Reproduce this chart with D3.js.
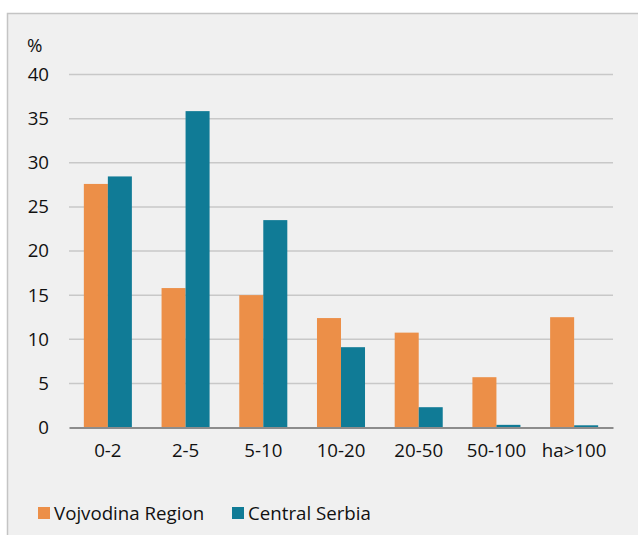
<!DOCTYPE html>
<html>
<head>
<meta charset="utf-8">
<script src="https://cdn.jsdelivr.net/npm/d3@7"></script>
<style>
    body { margin: 0; background: #ffffff; }
    text { font-family: "Open Sans", Lato, sans-serif; fill: #111111; }
</style>
</head>
<body>
<div id="chart"></div>
<script>
// farm size classes (ha) and share of holdings, %
const categories = ['0-2', '2-5', '5-10', '10-20', '20-50', '50-100', 'ha>100']
const seriesNames = ['Vojvodina Region', 'Central Serbia']
const vojvodina = [27.6, 15.8, 15.0, 12.4, 10.75, 5.7, 12.5]
const centralSerbia = [28.45, 35.85, 23.5, 9.1, 2.3, 0.3, 0.25]
const yTicks = [0, 5, 10, 15, 20, 25, 30, 35, 40]
const colors = ['#ec8f48', '#107b96']

let fullWidth = 638
let fullHeight = 535
const fontFam = '"Open Sans", Lato, sans-serif'
const fontSize = 18.7

var margin = { top: 74.5, right: 25, bottom: 107.5, left: 69 },
    width = fullWidth - margin.left - margin.right,
    height = fullHeight - margin.top - margin.bottom;

const root = d3.select('#chart')
    .append('svg')
    .attr('width', fullWidth)
    .attr('height', fullHeight)

// chart area frame
root.append('rect')
    .attr('x', 7.5)
    .attr('y', 13.5)
    .attr('width', fullWidth)
    .attr('height', fullHeight)
    .attr('fill', '#f0f0f0')
    .attr('stroke', '#c4c4c4')
    .attr('stroke-width', 1.5)

var svg = root.append('g')
    .attr('transform', 'translate(' + margin.left + ',' + margin.top + ')')

var x = d3.scaleBand()
    .domain(categories)
    .range([0, width])
    .paddingInner(0.382)
    .paddingOuter(0.191)

var xSub = d3.scaleBand()
    .domain(seriesNames)
    .range([0, x.bandwidth()])

var y = d3.scaleLinear()
    .domain([0, 40])
    .range([height, 0])

// gridlines
svg.append('g')
    .attr('class', 'grid')
    .selectAll('line')
    .data(yTicks.filter(d => d > 0))
    .enter()
    .append('line')
    .attr('x1', 0)
    .attr('x2', width)
    .attr('y1', d => y(d))
    .attr('y2', d => y(d))
    .attr('stroke', '#c8c8c8')
    .attr('stroke-width', 1.5)

// y axis labels only
var yAxis = svg.append('g')
    .attr('class', 'y-axis')
    .call(d3.axisLeft(y).tickValues(yTicks).tickSize(0).tickPadding(20))
yAxis.select('.domain').remove()
yAxis.selectAll('text')
    .attr('font-size', fontSize)
    .attr('font-family', fontFam)
    .attr('fill', '#111111')

svg.append('text')
    .attr('x', -42)
    .attr('y', -23)
    .attr('font-size', fontSize)
    .text('%')

const rows = categories.map((c, i) => ({ cat: c, values: [vojvodina[i], centralSerbia[i]] }))

svg.append('g')
    .attr('class', 'bars')
    .selectAll('g')
    .data(rows)
    .enter()
    .append('g')
    .attr('transform', d => 'translate(' + x(d.cat) + ',0)')
    .selectAll('rect')
    .data(d => d.values.map((v, j) => ({ name: seriesNames[j], value: v, j: j })))
    .enter()
    .append('rect')
    .attr('x', d => xSub(d.name))
    .attr('y', d => y(d.value))
    .attr('width', xSub.bandwidth())
    .attr('height', d => y(0) - y(d.value))
    .attr('fill', d => colors[d.j])

// x axis
var xAxis = svg.append('g')
    .attr('class', 'x-axis')
    .attr('transform', 'translate(0,' + height + ')')
    .call(d3.axisBottom(x).tickSize(0).tickPadding(16))
xAxis.select('.domain')
    .attr('stroke', '#8c8c8c')
    .attr('stroke-width', 2)
xAxis.selectAll('text')
    .attr('font-size', fontSize)
    .attr('font-family', fontFam)
    .attr('fill', '#111111')

// legend
const legend = root.append('g')
    .attr('class', 'legend')
    .selectAll('g')
    .data(seriesNames)
    .enter()
    .append('g')
    .attr('transform', (d, i) => 'translate(' + [38, 232][i] + ',507)')

legend.append('rect')
    .attr('width', 12)
    .attr('height', 12)
    .attr('fill', (d, i) => colors[i])

legend.append('text')
    .attr('x', 16)
    .attr('y', 13)
    .attr('font-size', fontSize)
    .text(d => d)
</script>
</body>
</html>
